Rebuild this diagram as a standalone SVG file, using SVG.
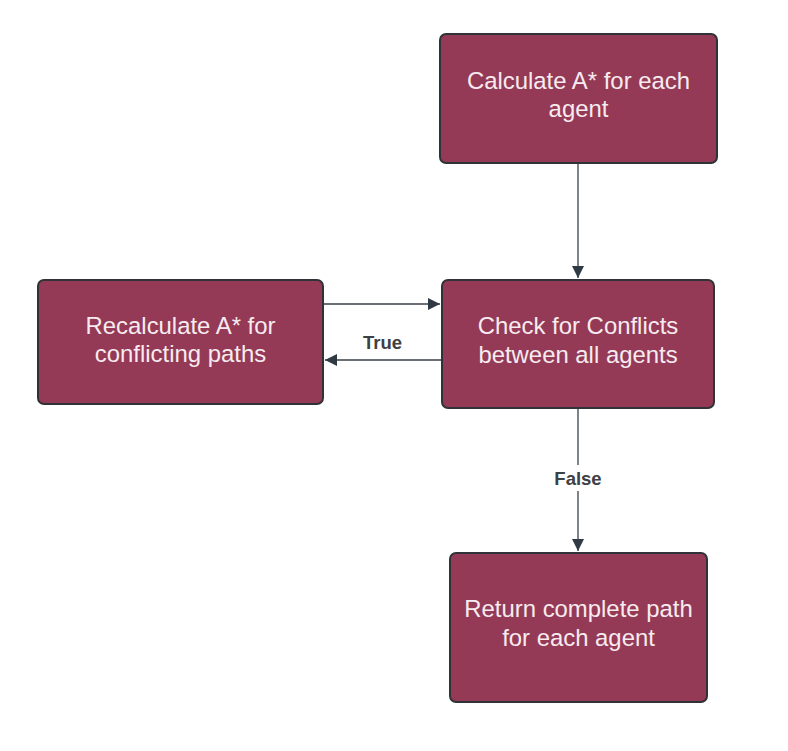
<svg xmlns="http://www.w3.org/2000/svg" width="788" height="751" viewBox="0 0 788 751">
<defs>
<style>
.box{fill:#943a56;stroke:#2f3338;stroke-width:2}
.t{font-family:"Liberation Sans",Arial,sans-serif;font-size:23.9px;fill:#f7ebef;text-anchor:middle}
.lbl{font-family:"Liberation Sans",Arial,sans-serif;font-size:18.5px;font-weight:bold;fill:#3d4044;text-anchor:middle}
.ln{stroke:#3a4149;stroke-width:1.3;fill:none}
</style>
<marker id="ah" viewBox="0 0 12 12" refX="12" refY="6" markerWidth="12" markerHeight="12" markerUnits="userSpaceOnUse" orient="auto">
<path d="M0,0 L12,6 L0,12 Z" fill="#2f3a44"/>
</marker>
</defs>
<rect width="788" height="751" fill="#ffffff"/>
<g id="connectors">
<line class="ln" x1="578" y1="164" x2="578" y2="278" marker-end="url(#ah)"/>
<line class="ln" x1="324" y1="304" x2="440" y2="304" marker-end="url(#ah)"/>
<line class="ln" x1="441" y1="360" x2="325" y2="360" marker-end="url(#ah)"/>
<line class="ln" x1="578" y1="409" x2="578" y2="551" marker-end="url(#ah)"/>
<rect x="550" y="465" width="56" height="26" fill="#ffffff"/>
<text class="lbl" x="382.5" y="349">True</text>
<text class="lbl" x="578" y="485">False</text>
</g>
<g id="node-calc">
<rect class="box" x="440" y="34" width="277" height="129" rx="6"/>
<text class="t" x="578.5" y="88.5">Calculate A* for each</text>
<text class="t" x="578.5" y="117">agent</text>
</g>
<g id="node-check">
<rect class="box" x="442" y="280" width="272" height="128" rx="6"/>
<text class="t" x="578" y="334">Check for Conflicts</text>
<text class="t" x="578" y="362.5">between all agents</text>
</g>
<g id="node-recalc">
<rect class="box" x="38" y="280" width="285" height="124" rx="6"/>
<text class="t" x="180.5" y="333.5">Recalculate A* for</text>
<text class="t" x="180.5" y="362">conflicting paths</text>
</g>
<g id="node-return">
<rect class="box" x="450" y="553" width="257" height="149" rx="6"/>
<text class="t" x="578.5" y="617">Return complete path</text>
<text class="t" x="578.5" y="645.5">for each agent</text>
</g>
</svg>
